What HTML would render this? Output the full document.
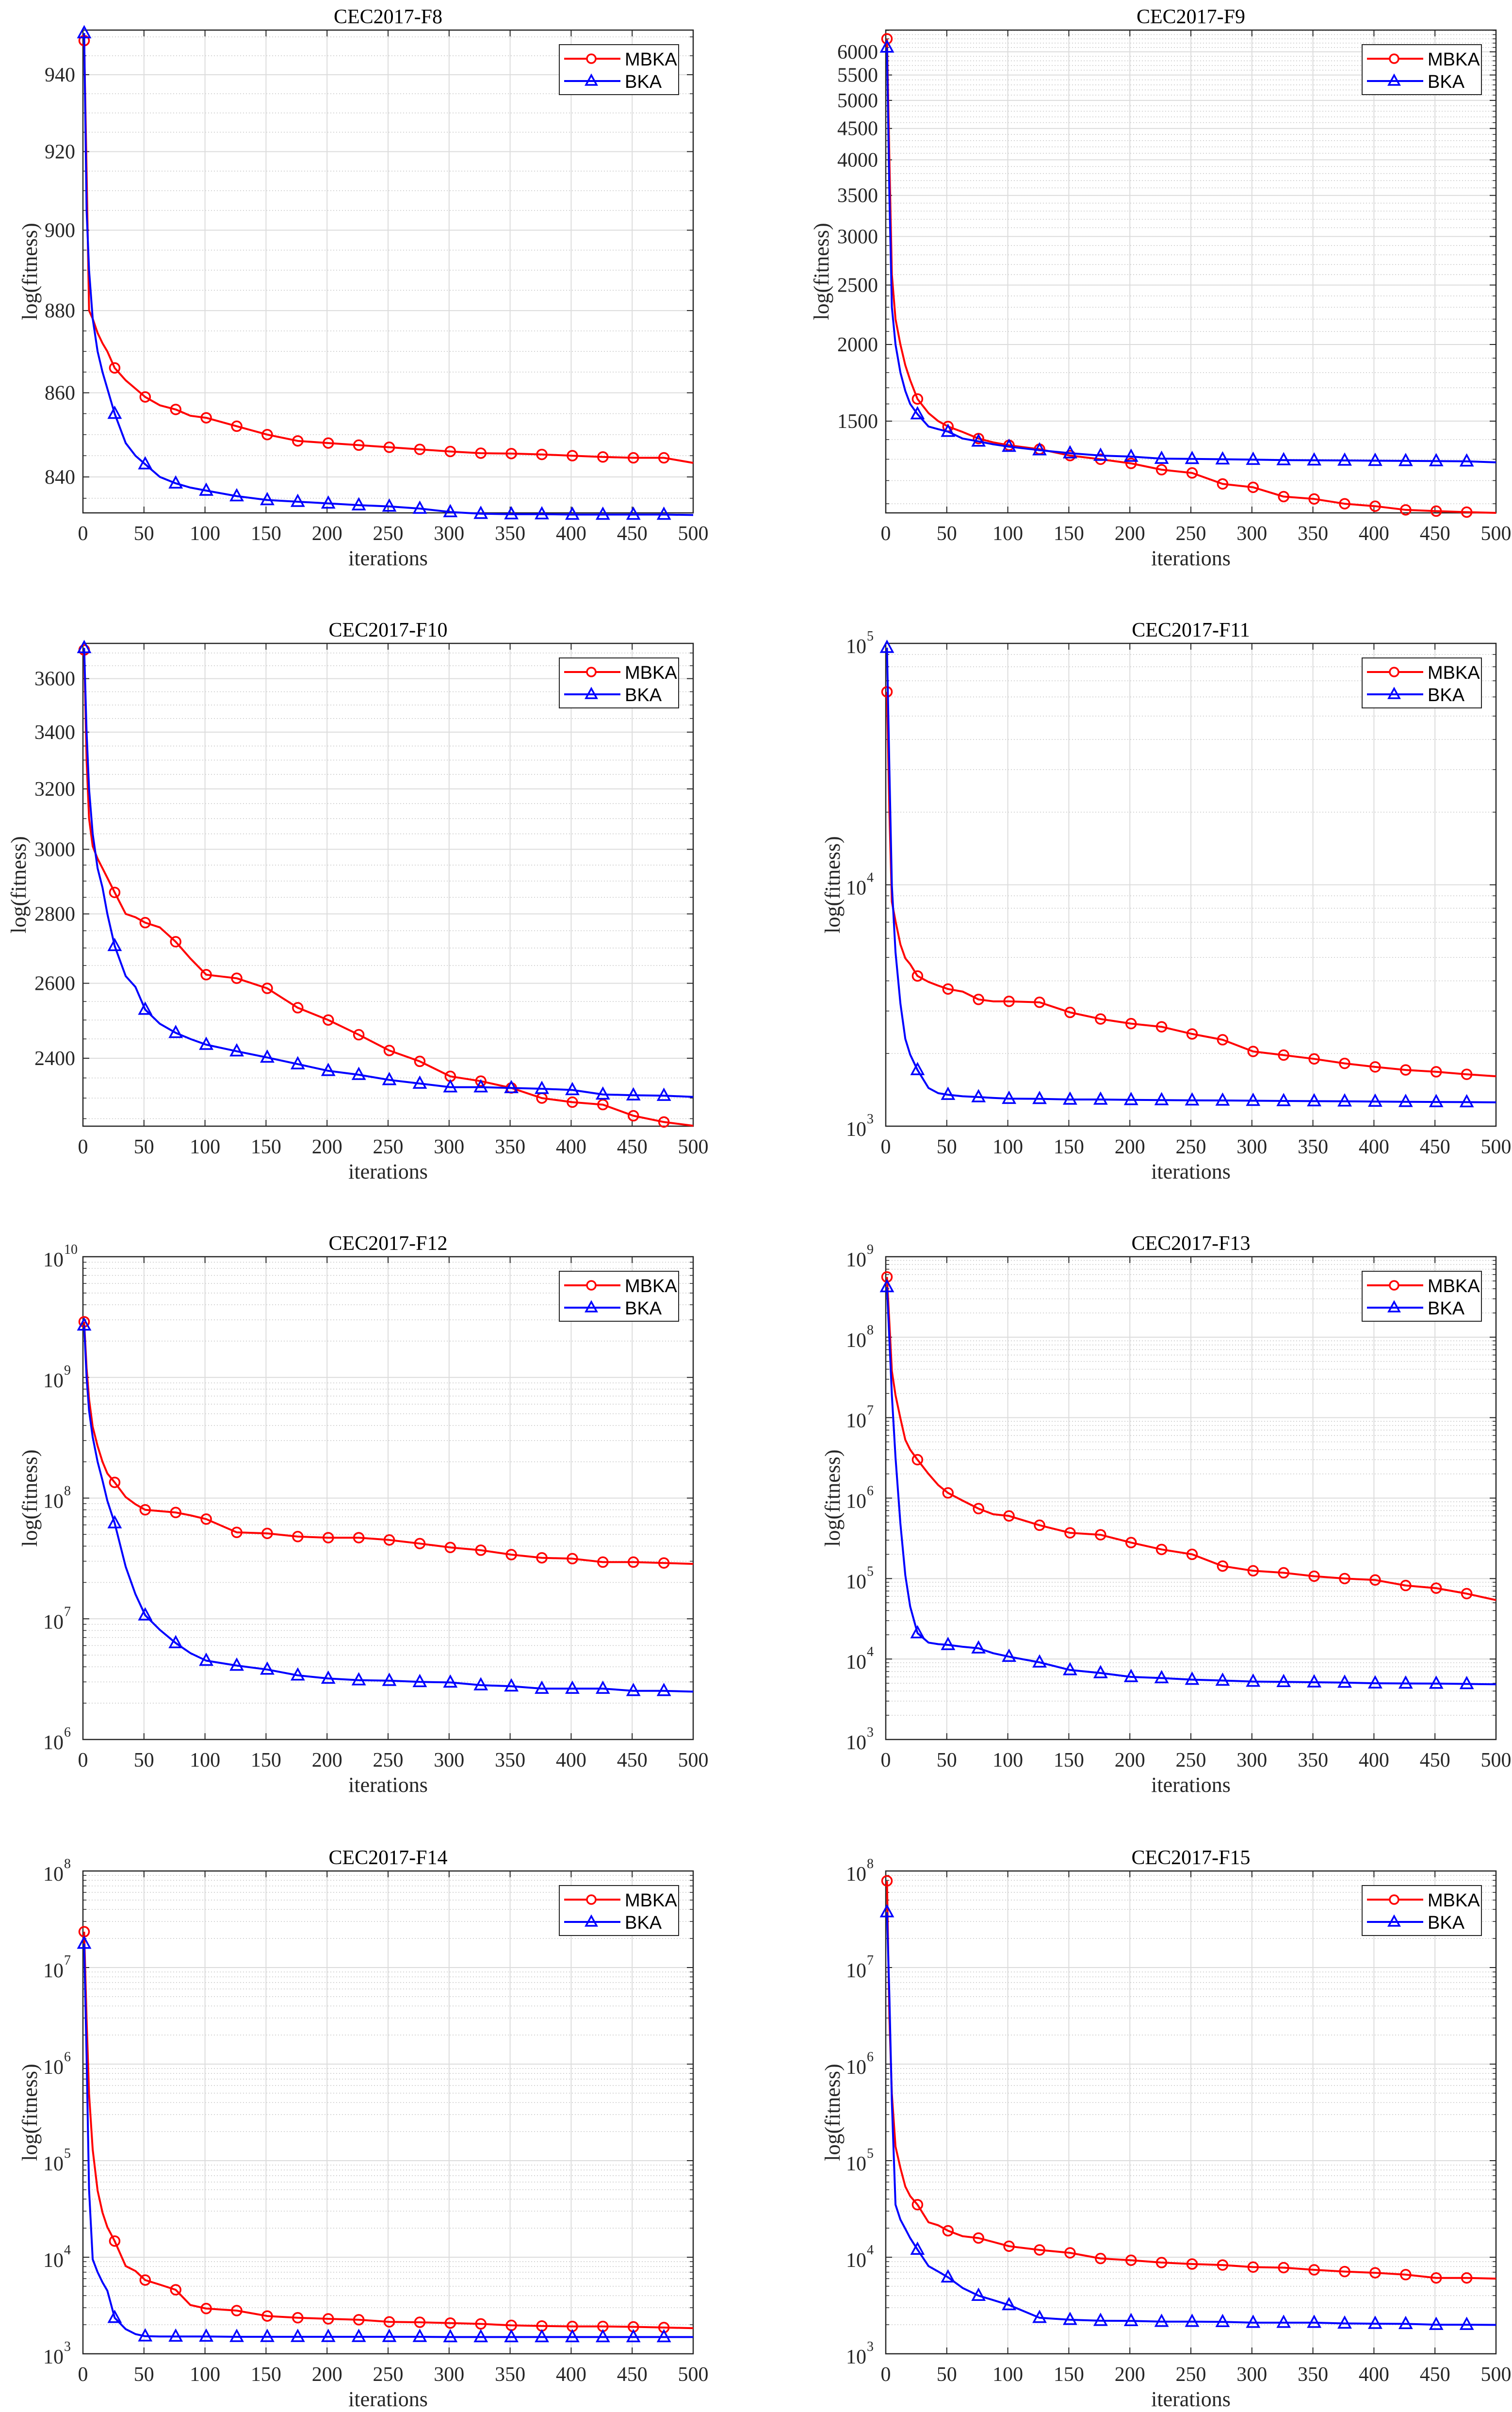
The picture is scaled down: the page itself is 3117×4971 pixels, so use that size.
<!DOCTYPE html>
<html><head><meta charset="utf-8">
<style>
html,body{margin:0;padding:0;background:#fff;}
svg{display:block;}
</style></head>
<body>
<svg id="fig" width="3117" height="4971" viewBox="0 0 3117 4971" xmlns="http://www.w3.org/2000/svg">
<rect width="3117" height="4971" fill="#fff"/>
</svg>
<script>
const iters=[1,3,5,8,12,16,20,26,35,43,51,63,76,88,101,126,151,176,201,226,251,276,301,326,351,376,401,426,451,476,500];
const xTicks=[0,50,100,150,200,250,300,350,400,450,500];
const f8_mbka=[949,915,880,878,874.5,872,870,866,863,861,859,857,856,854.5,854,852,850,848.5,848,847.5,847,846.5,846,845.6,845.5,845.3,845,844.7,844.5,844.5,843.3];
const f8_bka=[951,905,890,878,870,865,861,855,848,845,843,840,838.5,837.5,836.8,835.5,834.6,834.2,833.8,833.4,833.1,832.6,831.8,831.4,831.3,831.3,831.2,831.2,831.2,831.2,831.1];
const f9_mbka=[6300,4000,2600,2200,2000,1850,1750,1630,1546,1500,1470,1440,1405,1385,1370,1350,1318,1300,1280,1250,1235,1185,1170,1130,1120,1100,1090,1075,1070,1066,1063];
const f9_bka=[6100,3500,2300,2000,1800,1680,1600,1540,1470,1455,1442,1405,1390,1375,1363,1345,1330,1318,1313,1303,1302,1300,1298,1296,1295,1294,1293,1292,1291,1290,1285];
const f10_mbka=[3712,3300,3100,3010,2970,2940,2910,2865,2800,2790,2774,2760,2718,2670,2624,2614,2586,2533,2500,2461,2420,2392,2354,2342,2325,2300,2290,2284,2257,2242,2233];
const f10_bka=[3720,3400,3200,3050,2940,2880,2800,2706,2620,2590,2528,2490,2466,2450,2435,2418,2402,2385,2368,2358,2345,2336,2327,2327,2325,2323,2320,2309,2307,2306,2303];
const f11_mbka=[63000,20000,8500,7070,5660,4960,4690,4190,3960,3820,3700,3610,3350,3290,3290,3260,2960,2780,2660,2580,2410,2280,2040,1970,1900,1820,1760,1710,1680,1640,1610];
const f11_bka=[96000,30000,9900,5250,3220,2300,1980,1710,1440,1370,1350,1330,1320,1310,1300,1298,1290,1290,1285,1283,1280,1278,1275,1272,1270,1268,1265,1262,1260,1258,1255];
const f12_mbka=[2.89e9,1.2e9,6.6e8,3.9e8,2.7e8,2.0e8,1.6e8,1.35e8,1.02e8,8.9e7,8.0e7,7.8e7,7.6e7,7.2e7,6.7e7,5.2e7,5.1e7,4.8e7,4.7e7,4.7e7,4.5e7,4.2e7,3.9e7,3.7e7,3.4e7,3.2e7,3.15e7,2.95e7,2.95e7,2.9e7,2.85e7];
const f12_bka=[2.7e9,1.0e9,5.3e8,3.2e8,2.0e8,1.4e8,9.5e7,6.2e7,2.7e7,1.6e7,1.07e7,8.1e6,6.3e6,5.2e6,4.5e6,4.1e6,3.8e6,3.4e6,3.2e6,3.1e6,3.07e6,3.0e6,2.97e6,2.82e6,2.76e6,2.64e6,2.64e6,2.64e6,2.53e6,2.53e6,2.49e6];
const f13_mbka=[5.6e8,1.5e8,3.8e7,1.9e7,9.8e6,5.3e6,4.0e6,3.0e6,2.0e6,1.45e6,1.16e6,9.3e5,7.4e5,6.3e5,6.0e5,4.6e5,3.7e5,3.5e5,2.8e5,2.3e5,2.0e5,1.43e5,1.25e5,1.18e5,1.07e5,1.0e5,9.6e4,8.2e4,7.6e4,6.5e4,5.4e4];
const f13_bka=[4.2e8,9.3e7,1.9e7,3.2e6,4.8e5,1.1e5,4.5e4,2.1e4,1.6e4,1.53e4,1.5e4,1.42e4,1.36e4,1.18e4,1.07e4,9.1e3,7.3e3,6.7e3,6.0e3,5.8e3,5.55e3,5.4e3,5.25e3,5.2e3,5.15e3,5.1e3,5.0e3,4.97e3,4.95e3,4.9e3,4.85e3];
const f14_mbka=[2.35e7,2.9e6,4.9e5,1.3e5,4.9e4,2.9e4,2.05e4,1.47e4,8.1e3,7.2e3,5.8e3,5.2e3,4.6e3,3.2e3,2.94e3,2.8e3,2.46e3,2.36e3,2.3e3,2.25e3,2.14e3,2.12e3,2.08e3,2.04e3,1.97e3,1.94e3,1.92e3,1.92e3,1.9e3,1.87e3,1.84e3];
const f14_bka=[1.77e7,1.2e6,5e4,9.5e3,7e3,5.5e3,4.5e3,2.36e3,1.8e3,1.6e3,1.52e3,1.51e3,1.51e3,1.51e3,1.51e3,1.5e3,1.5e3,1.5e3,1.5e3,1.5e3,1.5e3,1.5e3,1.49e3,1.49e3,1.49e3,1.49e3,1.49e3,1.49e3,1.49e3,1.49e3,1.49e3];
const f15_mbka=[7.9e7,3e6,4.9e5,1.4e5,8.4e4,5.4e4,4.3e4,3.5e4,2.3e4,2.14e4,1.88e4,1.65e4,1.58e4,1.44e4,1.3e4,1.19e4,1.11e4,9.7e3,9.3e3,8.8e3,8.5e3,8.3e3,7.9e3,7.8e3,7.4e3,7.1e3,6.9e3,6.6e3,6.1e3,6.1e3,6.0e3];
const f15_bka=[3.75e7,5e6,4e5,3.5e4,2.45e4,1.97e4,1.58e4,1.2e4,8.1e3,7.1e3,6.2e3,4.8e3,4.0e3,3.6e3,3.2e3,2.36e3,2.25e3,2.2e3,2.19e3,2.15e3,2.15e3,2.14e3,2.1e3,2.1e3,2.1e3,2.06e3,2.05e3,2.04e3,2.0e3,2.0e3,1.99e3];
const f8_ticks=[840,860,880,900,920,940];
const f9_ticks=[1500,2000,2500,3000,3500,4000,4500,5000,5500,6000];
const f10_ticks=[2400,2600,2800,3000,3200,3400,3600];
const f11_ticks=[3,4,5];
const f12_ticks=[6,7,8,9,10];
const f13_ticks=[3,4,5,6,7,8,9];
const f14_ticks=[3,4,5,6,7,8];
const f15_ticks=[3,4,5,6,7,8];

const NS='http://www.w3.org/2000/svg';
const svg=document.getElementById('fig');
function mk(tag,attrs,parent){const e=document.createElementNS(NS,tag);for(const k in attrs)e.setAttribute(k,attrs[k]);(parent||svg).appendChild(e);return e;}

const charts=[
 {title:'CEC2017-F8',col:0,row:0,ymin:831.6,ymax:951.8,lin:f8_ticks,minorStep:5,mb:f8_mbka,bk:f8_bka},
 {title:'CEC2017-F9',col:1,row:0,ymin:1063,ymax:6510,lin:f9_ticks,minorStep:100,mb:f9_mbka,bk:f9_bka},
 {title:'CEC2017-F10',col:0,row:1,ymin:2232,ymax:3738,lin:f10_ticks,minorStep:50,mb:f10_mbka,bk:f10_bka},
 {title:'CEC2017-F11',col:1,row:1,ymin:1e3,ymax:1e5,dec:f11_ticks,mb:f11_mbka,bk:f11_bka},
 {title:'CEC2017-F12',col:0,row:2,ymin:1e6,ymax:1e10,dec:f12_ticks,mb:f12_mbka,bk:f12_bka},
 {title:'CEC2017-F13',col:1,row:2,ymin:1e3,ymax:1e9,dec:f13_ticks,mb:f13_mbka,bk:f13_bka},
 {title:'CEC2017-F14',col:0,row:3,ymin:1e3,ymax:1e8,dec:f14_ticks,mb:f14_mbka,bk:f14_bka},
 {title:'CEC2017-F15',col:1,row:3,ymin:1e3,ymax:1e8,dec:f15_ticks,mb:f15_mbka,bk:f15_bka}
];
const colL=[171,1826], W=1258, H=995;
const rowT=[62,1326,2590,3856];
const serif='"Liberation Serif", serif', sans='"Liberation Sans", sans-serif';

charts.forEach((c,ci)=>{
  const L=colL[c.col], T=rowT[c.row], R=L+W, B=T+H;
  const g=mk('g',{});
  
  
  const sx=v=>L+W*v/500;
  const lmin=Math.log10(c.ymin), lmax=Math.log10(c.ymax);
  const sy=v=>T+H*(lmax-Math.log10(v))/(lmax-lmin);
  // minor grid
  const minors=[];
  if(c.lin){
    for(let v=Math.ceil(c.ymin/c.minorStep)*c.minorStep; v<=c.ymax; v+=c.minorStep){ if(!c.lin.includes(v)) minors.push(v); }
  } else {
    for(let e=Math.floor(lmin); e<lmax; e++) for(let m=2;m<=9;m++){const v=m*Math.pow(10,e); if(v>c.ymin&&v<c.ymax) minors.push(v);}
  }
  minors.forEach(v=>{
    const y=sy(v);
    const ln=mk('line',{x1:L,x2:R,y1:y,y2:y,stroke:'#c8c8c8','stroke-width':1.5,'stroke-dasharray':'2,4'},g);
    
    
    mk('line',{x1:L,x2:L+7,y1:y,y2:y,stroke:'#262626','stroke-width':1.5},g);
    mk('line',{x1:R-7,x2:R,y1:y,y2:y,stroke:'#262626','stroke-width':1.5},g);
  });
  // major y
  const majors=c.lin?c.lin.map(v=>({v:v,lab:String(v)})):c.dec.map(e=>({v:Math.pow(10,e),e:e}));
  majors.forEach(m=>{
    const y=sy(m.v);
    const gl=mk('line',{x1:L,x2:R,y1:y,y2:y,stroke:'#dcdcdc','stroke-width':2},g);
    
    
    mk('line',{x1:L,x2:L+13,y1:y,y2:y,stroke:'#262626','stroke-width':2},g);
    mk('line',{x1:R-13,x2:R,y1:y,y2:y,stroke:'#262626','stroke-width':2},g);
    if(m.lab!==undefined){
      const t=mk('text',{x:L-16,y:y+14,'text-anchor':'end','font-family':serif,'font-size':42,fill:'#262626'},g);
      t.textContent=m.lab;
      
      
    } else {
      const t=mk('text',{x:L-40,y:y+20,'text-anchor':'end','font-family':serif,'font-size':42,fill:'#262626'},g);
      t.textContent='10';
      
      
      const s=mk('text',{x:L-39,y:y-6,'text-anchor':'start','font-family':serif,'font-size':28,fill:'#262626'},g);
      s.textContent=String(m.e);
      
      
    }
  });
  // x grid
  xTicks.forEach(v=>{
    const x=sx(v);
    if(v>0&&v<500){
      const gl=mk('line',{x1:x,x2:x,y1:T,y2:B,stroke:'#dcdcdc','stroke-width':2},g);
      
      
    }
    mk('line',{x1:x,x2:x,y1:B-13,y2:B,stroke:'#262626','stroke-width':2},g);
    mk('line',{x1:x,x2:x,y1:T,y2:T+13,stroke:'#262626','stroke-width':2},g);
    const t=mk('text',{x:x,y:B+56,'text-anchor':'middle','font-family':serif,'font-size':42,fill:'#262626'},g);
    t.textContent=String(v);
    
    
  });
  // axes box
  const box=mk('rect',{x:L,y:T,width:W,height:H,fill:'none',stroke:'#262626','stroke-width':2.5},g);
  
  
  // series
  const series=[{d:c.mb,col:'#ff0000',name:'MBKA',mk:'circle'},{d:c.bk,col:'#0000ff',name:'BKA',mk:'tri'}];
  const clip=mk('clipPath',{id:'clip'+ci},g);
  mk('rect',{x:L-12,y:T-12,width:W+24,height:H+24},clip);
  series.forEach(s=>{
    const pts=s.d.map((v,i)=>sx(iters[i]).toFixed(1)+','+sy(v).toFixed(1)).join(' ');
    const pl=mk('polyline',{points:pts,fill:'none',stroke:s.col,'stroke-width':4,'stroke-linejoin':'round'},g);
    
    
    s.d.forEach((v,i)=>{
      if((iters[i]-1)%25!==0) return;
      const x=sx(iters[i]), y=sy(v);
      let m;
      if(s.mk==='circle') m=mk('circle',{cx:x,cy:y,r:10,fill:'none',stroke:s.col,'stroke-width':3.5},g);
      else m=mk('polygon',{points:`${x},${y-13} ${x-12},${y+9} ${x+12},${y+9}`,fill:'none',stroke:s.col,'stroke-width':3.5},g);
      
      
    });
  });
  // title and labels
  const tt=mk('text',{x:L+W/2,y:T-14,'text-anchor':'middle','font-family':serif,'font-size':42,fill:'#000'},g);
  tt.textContent=c.title;
  
  
  const xl=mk('text',{x:L+W/2,y:B+108,'text-anchor':'middle','font-family':serif,'font-size':44,fill:'#262626'},g);
  xl.textContent='iterations';
  
  
  const off=(c.lin&&c.lin[0]>=1000)?118:95;
  const yx=L-off, yy=T+H/2;
  const yl=mk('text',{x:yx,y:yy,'text-anchor':'middle','font-family':serif,'font-size':44,fill:'#262626',transform:`rotate(-90 ${yx} ${yy})`},g);
  yl.textContent='log(fitness)';
  
  
  // legend
  const lx=R-30-246, ly=T+30;
  const lg=mk('g',{},g);
  
  
  mk('rect',{x:lx,y:ly,width:246,height:103,fill:'#fff',stroke:'#262626','stroke-width':2},lg);
  series.forEach((s,k)=>{
    const y=ly+29+k*46;
    const e=mk('g',{},lg);
    
    
    mk('line',{x1:lx+10,x2:lx+126,y1:y,y2:y,stroke:s.col,'stroke-width':4},e);
    const mx=lx+66;
    if(s.mk==='circle') mk('circle',{cx:mx,cy:y,r:9,fill:'#fff',stroke:s.col,'stroke-width':3.5},e);
    else mk('polygon',{points:`${mx},${y-12} ${mx-11},${y+8} ${mx+11},${y+8}`,fill:'none',stroke:s.col,'stroke-width':3.5},e);
    const t=mk('text',{x:lx+135,y:y+14,'font-family':sans,'font-size':38,fill:'#000'},e);
    t.textContent=s.name;
  });
});
</script>
</body></html>
